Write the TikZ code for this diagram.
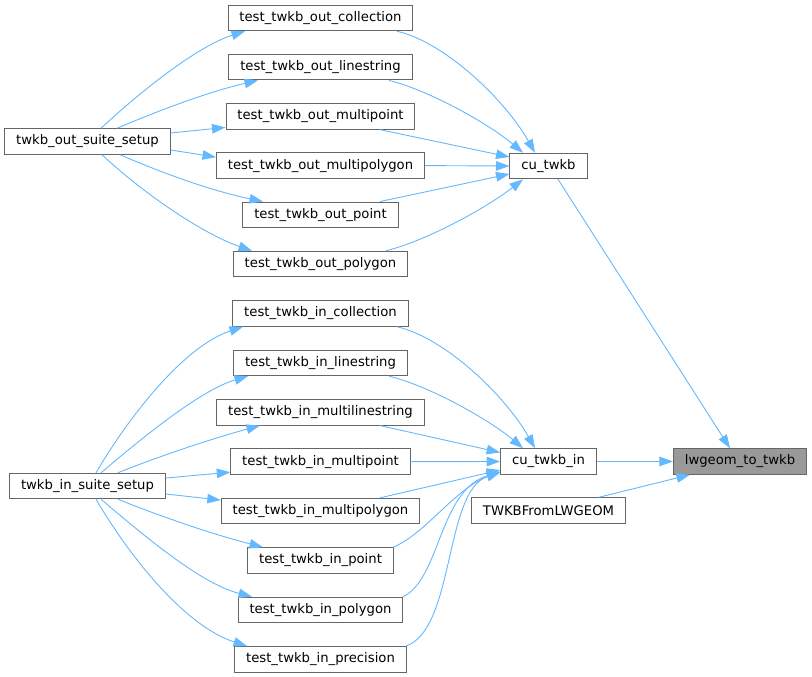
\documentclass[tikz,border=0pt]{standalone}
\usepackage{fontspec}
\setmainfont{DejaVu Sans}
\usetikzlibrary{arrows.meta}

\definecolor{edgeblue}{HTML}{63B8FF}
\definecolor{boxgray}{HTML}{666666}
\definecolor{hlgray}{HTML}{999999}

\tikzset{
  fnbox/.style={draw=boxgray, line width=1pt, fill=white, inner xsep=11.4pt, inner ysep=0pt,
    minimum height=25.5pt, font=\fontsize{13.2}{15}\selectfont},
  hlbox/.style={fnbox, fill=hlgray},
  calls/.style={draw=edgeblue, line width=0.9pt, -{Triangle[length=13.5pt,width=9.5pt]}}
}

\begin{document}
\begin{tikzpicture}[x=1pt, y=-1pt]
  \useasboundingbox (0,0) rectangle (812,677);

  % out suite
  \node[fnbox] (soSetup) at (87.5,141.5) {twkb\_out\_suite\_setup};
  \node[fnbox] (toColl)   at (320.5,18)    {test\_twkb\_out\_collection};
  \node[fnbox] (toLine)   at (320.5,67.2)  {test\_twkb\_out\_linestring};
  \node[fnbox] (toMpoint) at (320.5,116.4) {test\_twkb\_out\_multipoint};
  \node[fnbox] (toMpoly)  at (320.5,165.6) {test\_twkb\_out\_multipolygon};
  \node[fnbox] (toPoint)  at (320.5,214.8) {test\_twkb\_out\_point};
  \node[fnbox] (toPoly)   at (320.5,264)   {test\_twkb\_out\_polygon};
  \node[fnbox] (cuTwkb)   at (548.5,166)   {cu\_twkb};

  % in suite
  \node[fnbox] (siSetup) at (87.5,486) {twkb\_in\_suite\_setup};
  \node[fnbox] (tiColl)   at (320.5,313.5) {test\_twkb\_in\_collection};
  \node[fnbox] (tiLine)   at (320.5,362.9) {test\_twkb\_in\_linestring};
  \node[fnbox] (tiMline)  at (320.5,412.3) {test\_twkb\_in\_multilinestring};
  \node[fnbox] (tiMpoint) at (320.5,461.7) {test\_twkb\_in\_multipoint};
  \node[fnbox] (tiMpoly)  at (320.5,511.1) {test\_twkb\_in\_multipolygon};
  \node[fnbox] (tiPoint)  at (320.5,560.5) {test\_twkb\_in\_point};
  \node[fnbox] (tiPoly)   at (320.5,609.9) {test\_twkb\_in\_polygon};
  \node[fnbox] (tiPrec)   at (320.5,659.3) {test\_twkb\_in\_precision};
  \node[fnbox] (cuTwkbIn) at (548.5,461.5) {cu\_twkb\_in};

  \node[fnbox] (twkbFrom) at (548.5,510.5) {TWKBFromLWGEOM};
  \node[hlbox] (lwTwkb)   at (740,461.5)   {lwgeom\_to\_twkb};

  % twkb_out_suite_setup -> tests
  \draw[calls] ([xshift=13.5pt]soSetup.north) .. controls +(44,-41) and +(-45,14) .. ([xshift=-75.5pt]toColl.south);
  \draw[calls] ([xshift=29.5pt]soSetup.north) .. controls +(33,-14) and +(-53,12) .. ([xshift=-62.5pt]toLine.south);
  \draw[calls] ([yshift=8.5pt]soSetup.east) -- ([yshift=-11pt]toMpoint.west);
  \draw[calls] ([yshift=-8.5pt]soSetup.east) -- ([yshift=8.5pt]toMpoly.west);
  \draw[calls] ([xshift=32.5pt]soSetup.south) .. controls +(30,13) and +(-58,-12) .. ([xshift=-57.5pt]toPoint.north);
  \draw[calls] ([xshift=14.5pt]soSetup.south) .. controls +(44,41) and +(-47,-16) .. ([xshift=-68.5pt]toPoly.north);

  % tests -> cu_twkb
  \draw[calls] ([xshift=76.5pt]toColl.south) .. controls +(48,11) and +(-30,-53) .. ([xshift=-13.5pt]cuTwkb.north);
  \draw[calls] ([xshift=68.5pt]toLine.south) .. controls +(41,10) and +(-33,-28) .. ([xshift=-25.5pt]cuTwkb.north);
  \draw[calls] ([xshift=59.5pt]toMpoint.south) -- ([yshift=9pt]cuTwkb.west);
  \draw[calls] (toMpoly.east) -- (cuTwkb.west);
  \draw[calls] ([xshift=59.5pt]toPoint.north) -- ([yshift=-8pt]cuTwkb.west);
  \draw[calls] ([xshift=65.5pt]toPoly.north) .. controls +(44,-11) and +(-33,26) .. ([xshift=-25.5pt]cuTwkb.south);

  % twkb_in_suite_setup -> tests
  \draw[calls] ([xshift=8.5pt]siSetup.north) .. controls +(34,-58) and +(-58,19) .. ([xshift=-77.5pt]tiColl.south);
  \draw[calls] ([xshift=13.5pt]siSetup.north) .. controls +(39,-33) and +(-48,14) .. ([xshift=-72.5pt]tiLine.south);
  \draw[calls] ([xshift=30.5pt]siSetup.north) .. controls +(32,-13) and +(-55,15) .. ([xshift=-60.5pt]tiMline.south);
  \draw[calls] ([yshift=8pt]siSetup.east) -- ([yshift=-10.5pt]tiMpoint.west);
  \draw[calls] ([yshift=-8pt]siSetup.east) -- ([yshift=11pt]tiMpoly.west);
  \draw[calls] ([xshift=30.5pt]siSetup.south) .. controls +(32,13) and +(-58,-15) .. ([xshift=-57.5pt]tiPoint.north);
  \draw[calls] ([xshift=13.5pt]siSetup.south) .. controls +(39,33) and +(-52,-13) .. ([xshift=-68.5pt]tiPoly.north);
  \draw[calls] ([xshift=8.5pt]siSetup.south) .. controls +(34,58) and +(-62,-20) .. ([xshift=-73.5pt]tiPrec.north);

  % tests -> cu_twkb_in
  \draw[calls] ([xshift=76.5pt]tiColl.south) .. controls +(48,11) and +(-30,-53) .. ([xshift=-13.5pt]cuTwkbIn.north);
  \draw[calls] ([xshift=68.5pt]tiLine.south) .. controls +(41,10) and +(-33,-28) .. ([xshift=-25.5pt]cuTwkbIn.north);
  \draw[calls] ([xshift=59.5pt]tiMline.south) -- ([yshift=9pt]cuTwkbIn.west);
  \draw[calls] (tiMpoint.east) -- (cuTwkbIn.west);
  \draw[calls] ([xshift=59.5pt]tiMpoly.north) -- ([yshift=-8.5pt]cuTwkbIn.west);
  \draw[calls] ([xshift=72.5pt]tiPoint.north) .. controls +(32,-13) and +(-46,18) .. ([yshift=-10pt]cuTwkbIn.west);
  \draw[calls] ([xshift=82.5pt]tiPoly.north) .. controls +(37,-17) and +(-61,18) .. ([yshift=-10.5pt]cuTwkbIn.west);
  \draw[calls] ([xshift=85.5pt]tiPrec.north) .. controls +(49,-17) and +(-56,18) .. ([yshift=-11pt]cuTwkbIn.west);

  % -> lwgeom_to_twkb
  \draw[calls] ([xshift=9.5pt]cuTwkb.south) -- ([xshift=-10pt]lwTwkb.north);
  \draw[calls] (cuTwkbIn.east) -- (lwTwkb.west);
  \draw[calls] ([xshift=50.5pt]twkbFrom.north) -- ([xshift=-50pt]lwTwkb.south);
\end{tikzpicture}
\end{document}
